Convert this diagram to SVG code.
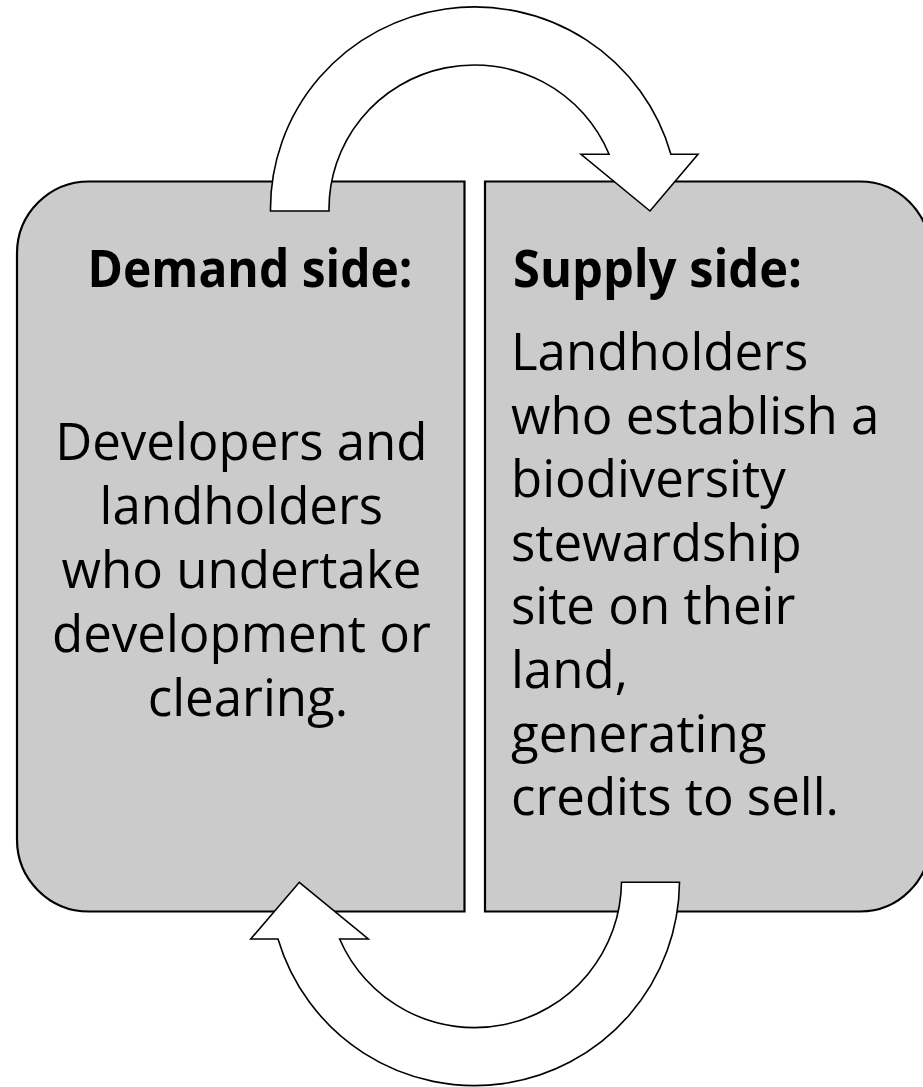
<svg xmlns="http://www.w3.org/2000/svg" width="923" height="1087" viewBox="0 0 923 1087">
<style>
.box{fill:#cbcbcb;stroke:#000;stroke-width:2.2}
.arrow{fill:#fff;stroke:#000;stroke-width:1.6;stroke-linejoin:miter}
.head{font-family:"Open Sans","Noto Sans",sans-serif;font-weight:bold;font-size:52px;fill:#000}
.body{font-family:"Open Sans","Noto Sans",sans-serif;font-size:51px;fill:#000}
</style>
<rect width="923" height="1087" fill="#fff"/>
<g id="demand">
<path class="box" d="M 89,181.5 H 464.5 V 911.5 H 89 A 72 72 0 0 1 17,839.5 V 253.5 A 72 72 0 0 1 89,181.5 Z"/>
<text class="head" x="250" y="287" text-anchor="middle" textLength="325" lengthAdjust="spacingAndGlyphs">Demand side:</text>
<text class="body" text-anchor="middle">
<tspan x="248" y="460">Developers and</tspan>
<tspan x="248" y="524">landholders</tspan>
<tspan x="248" y="588">who undertake</tspan>
<tspan x="248" y="652">development or</tspan>
<tspan x="248" y="716">clearing.</tspan>
</text>
</g>
<g id="supply">
<path class="box" d="M 485,181.5 H 860 A 70 70 0 0 1 930,251.5 V 841.5 A 70 70 0 0 1 860,911.5 H 485 Z"/>
<text class="head" x="513" y="287" textLength="289" lengthAdjust="spacingAndGlyphs">Supply side:</text>
<text class="body">
<tspan x="511" y="370">Landholders</tspan>
<tspan x="511" y="433.6">who establish a</tspan>
<tspan x="511" y="497.2">biodiversity</tspan>
<tspan x="511" y="560.8">stewardship</tspan>
<tspan x="511" y="624.4">site on their</tspan>
<tspan x="511" y="688">land,</tspan>
<tspan x="511" y="751.6">generating</tspan>
<tspan x="511" y="815.2">credits to sell.</tspan>
</text>
</g>
<g id="connectors">
<path id="arrow-top" class="arrow" d="M 270.5,211 A 204 202 0 0 1 670.9,154.3 L 698,154.3 L 650,211 L 581,154.3 L 609.1,154.3 A 145.5 144 0 0 0 329,211 Z"/>
<path id="arrow-bottom" class="arrow" d="M 679.5,882.3 A 205 205 0 0 1 278,939 L 250.7,939 L 299.3,882.3 L 368.3,939 L 339.6,939 A 147 147 0 0 0 621.5,882.3 Z"/>
</g>
</svg>
